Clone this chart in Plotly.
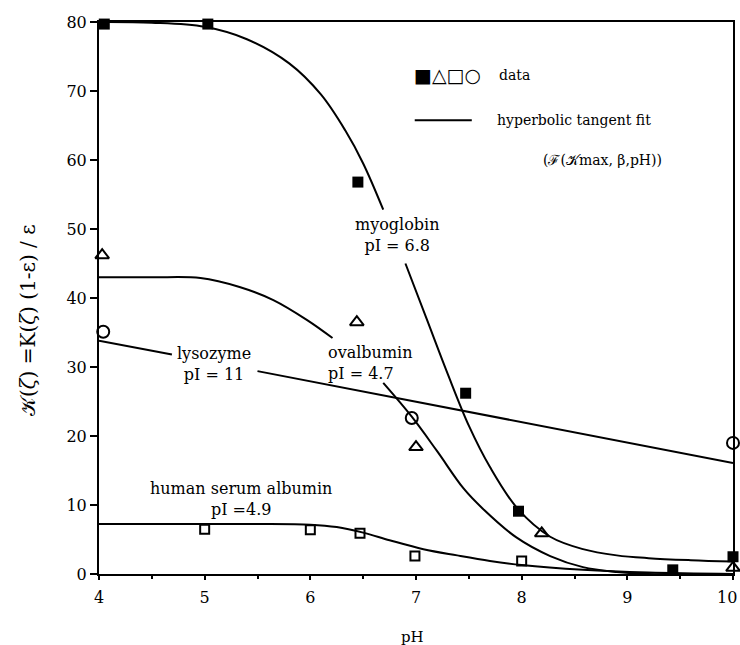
import plotly.graph_objects as go

# ---- measured data points ----
myo_ph = [4.05, 5.03, 6.45, 7.47, 7.97, 9.43, 10.0]
myo_k = [79.7, 79.7, 56.8, 26.2, 9.1, 0.6, 2.5]

ova_ph = [4.03, 6.44, 7.0, 8.19, 10.0]
ova_k = [46.2, 36.5, 18.4, 5.9, 0.9]

hsa_ph = [5.0, 6.0, 6.47, 6.99, 8.0]
hsa_k = [6.5, 6.4, 5.9, 2.6, 1.9]

lys_ph = [4.04, 6.96, 10.0]
lys_k = [35.1, 22.6, 19.0]

# ---- fit curves (None = gap under a label) ----
myo_fit_ph = [4.0, 4.5, 5.0, 5.4, 5.8, 6.1, 6.33, 6.5, 6.69, None, 6.9, 7.1, 7.3, 7.5, 7.7, 7.96, 8.27, 8.58, 8.9, 9.2, 9.6, 10.0]
myo_fit_k = [80.0, 79.9, 79.3, 77.5, 74.0, 69.5, 64.3, 59.5, 52.8, None, 45.0, 37.0, 29.0, 21.5, 15.5, 9.5, 5.4, 3.6, 2.7, 2.3, 2.0, 1.8]

ova_fit_ph = [4.0, 4.5, 4.96, 5.33, 5.65, 5.97, 6.21, None, 6.69, 6.96, 7.2, 7.45, 7.63, 7.95, 8.27, 8.58, 8.9, 9.2, 10.0]
ova_fit_k = [43.0, 43.0, 42.9, 41.6, 39.7, 36.8, 34.2, None, 27.7, 22.8, 17.8, 12.4, 9.5, 5.3, 2.6, 1.0, 0.3, 0.0, 0.0]

hsa_fit_ph = [4.0, 5.0, 5.5, 6.0, 6.25, 6.5, 6.75, 7.07, 7.39, 7.7, 8.0, 8.58, 9.2, 10.0]
hsa_fit_k = [7.25, 7.25, 7.25, 7.15, 6.8, 6.0, 4.9, 3.6, 2.7, 1.9, 1.3, 0.6, 0.2, 0.0]

lys_fit_ph = [4.0, 4.69, None, 5.5, 10.0]
lys_fit_k = [33.8, 31.8, None, 29.4, 16.1]

x_ticks = [4, 5, 6, 7, 8, 9, 10]
x_ticktext = ["4", "5", "6", "7", "8", "9", ""]   # "10" is placed just inside the right edge below
y_ticks = [0, 10, 20, 30, 40, 50, 60, 70, 80]

SERIF = "DejaVu Serif, Liberation Serif, serif"

fig = go.Figure()

for px_, py_, shp in [(myo_fit_ph, myo_fit_k, "spline"), (ova_fit_ph, ova_fit_k, "spline"),
                      (hsa_fit_ph, hsa_fit_k, "spline"), (lys_fit_ph, lys_fit_k, "linear")]:
    fig.add_trace(go.Scatter(x=px_, y=py_, mode="lines", line=dict(color="black", width=2, shape=shp, smoothing=1.0),
                             connectgaps=False, showlegend=False, hoverinfo="skip", cliponaxis=False))

fig.add_trace(go.Scatter(x=myo_ph, y=myo_k, mode="markers", cliponaxis=False, showlegend=False,
                         marker=dict(symbol="square", size=11, color="black")))
fig.add_trace(go.Scatter(x=ova_ph, y=ova_k, mode="markers", cliponaxis=False, showlegend=False,
                         marker=dict(symbol="triangle-up-open", size=12, color="black", line=dict(width=2, color="black"))))
fig.add_trace(go.Scatter(x=hsa_ph, y=hsa_k, mode="markers", cliponaxis=False, showlegend=False,
                         marker=dict(symbol="square-open", size=9, color="black", line=dict(width=2, color="black"))))
fig.add_trace(go.Scatter(x=lys_ph, y=lys_k, mode="markers", cliponaxis=False, showlegend=False,
                         marker=dict(symbol="circle-open", size=12, color="black", line=dict(width=2, color="black"))))

lab_font = dict(family=SERIF, size=16, color="black")
leg_font = dict(family=SERIF, size=14, color="black")
annotations = [
    dict(text="myoglobin<br>pI = 6.8", x=0.4716, y=0.614, xanchor="center", yanchor="middle", font=lab_font),
    dict(text="lysozyme<br>pI = 11", x=0.181, y=0.380, xanchor="center", yanchor="middle", font=lab_font),
    dict(text="ovalbumin<br>pI = 4.7", x=0.358, y=0.382, xanchor="left", yanchor="middle", align="left", font=lab_font),
    dict(text="human serum albumin<br>pI =4.9", x=0.224, y=0.136, xanchor="center", yanchor="middle", font=lab_font),
    dict(text="data", x=0.628, y=0.904, xanchor="left", yanchor="middle", font=leg_font),
    dict(text="hyperbolic tangent fit", x=0.625, y=0.822, xanchor="left", yanchor="middle", font=leg_font),
    dict(text="(ℱ(𝒦max, β,pH))", x=0.697, y=0.75, xanchor="left", yanchor="middle", font=leg_font),
]
for a in annotations:
    a.update(xref="paper", yref="paper", showarrow=False)
annotations.append(dict(text="■△□○", x=0.494, y=0.904, xref="paper", yref="paper", xanchor="left",
                        yanchor="middle", showarrow=False, font=dict(family="DejaVu Sans", size=19, color="black")))
annotations.append(dict(text="𝒦(<i>ζ</i>) =K(<i>ζ</i>) (1-ε) / ε", x=-0.112, y=0.46, xref="paper", yref="paper",
                        textangle=-90, showarrow=False, xanchor="center", yanchor="middle",
                        font=dict(family=SERIF, size=20, color="black")))
annotations.append(dict(text="pH", x=0.494, y=-0.114, xref="paper", yref="paper", showarrow=False,
                        xanchor="center", yanchor="middle", font=dict(family=SERIF, size=15, color="black")))
annotations.append(dict(text=str(x_ticks[-1]), x=1.0095, y=-0.042, xref="paper", yref="paper", showarrow=False,
                        xanchor="right", yanchor="middle", font=dict(family=SERIF, size=16, color="black")))

fig.update_layout(
    width=740, height=645,
    margin=dict(l=99, r=7, t=22, b=71, autoexpand=False),
    paper_bgcolor="white", plot_bgcolor="white",
    annotations=annotations,
    shapes=[dict(type="line", xref="paper", yref="paper", x0=0.498, x1=0.588, y0=0.822, y1=0.822,
                 line=dict(color="black", width=2))],
)
fig.update_xaxes(range=[4, 10], tickvals=x_ticks, ticktext=x_ticktext, automargin=False,
                 showgrid=False, zeroline=False, showline=True, mirror=True, linecolor="black", linewidth=2,
                 ticks="outside", ticklen=4, tickwidth=2, tickcolor="black",
                 ticklabelstandoff=4,
                 minor=dict(dtick=0.5, ticks="outside", ticklen=3, tickwidth=2, tickcolor="black", showgrid=False),
                 tickfont=dict(family=SERIF, size=16, color="black"))
fig.update_yaxes(range=[0, 80], tickvals=y_ticks, ticktext=[str(v) for v in y_ticks], automargin=False,
                 showgrid=False, zeroline=False, showline=True, mirror=True, linecolor="black", linewidth=2,
                 ticks="outside", ticklen=7, tickwidth=2, tickcolor="black",
                 tickfont=dict(family=SERIF, size=16, color="black"))

fig.write_html("out.html")
